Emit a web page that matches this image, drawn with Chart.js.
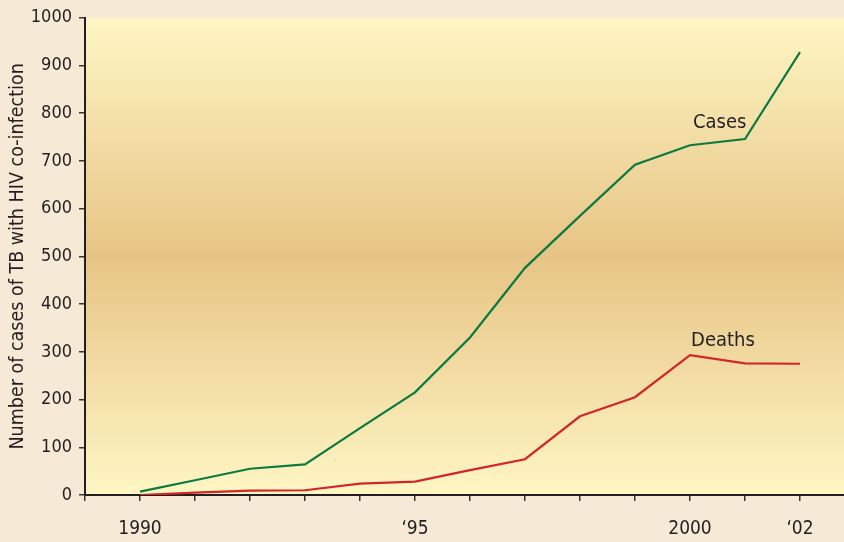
<!DOCTYPE html>
<html>
<head>
<meta charset="utf-8">
<script src="https://cdn.jsdelivr.net/npm/chart.js@4/dist/chart.umd.min.js"></script>
<style>
  html, body { margin: 0; padding: 0; background: #f6e9d6; }
  #wrap { width: 844px; height: 542px; }
</style>
</head>
<body>
<div id="wrap"><canvas id="c" width="844" height="542"></canvas></div>
<script>
// Annual TB cases with HIV co-infection, and deaths among them
const years  = [1990, 1991, 1992, 1993, 1994, 1995, 1996, 1997, 1998, 1999, 2000, 2001, 2002];
const cases  = [7, 31, 55, 64, 140, 215, 330, 476, 585, 692, 733, 746, 928];
const deaths = [0, 5, 9, 10, 24, 28, 52, 75, 165, 205, 293, 276, 275];

// Year tick marks and the few that carry a label
const tickYears = [1989, 1990, 1991, 1992, 1993, 1994, 1995, 1996, 1997, 1998, 1999, 2000, 2001, 2002];
const tickLabels = { 1990: '1990', 1995: '\u201895', 2000: '2000', 2002: '\u201802' };

// Series name labels, placed in data coordinates
const seriesLabels = [
  { text: 'Cases',  x: 2000.54, y: 781 },
  { text: 'Deaths', x: 2000.6,  y: 323 }
];

const FONT = "'DejaVu Sans Condensed', 'Liberation Sans Narrow', 'Arial Narrow', sans-serif";
const INK = '#231f20';

const toXY = (vals) => vals.map((v, i) => ({ x: years[i], y: v }));

// Page tone behind everything, and the banded gradient inside the plot
const backdrop = {
  id: 'backdrop',
  beforeDraw(chart) {
    const { ctx, chartArea: a } = chart;
    ctx.save();
    ctx.fillStyle = '#f6e9d6';
    ctx.fillRect(0, 0, chart.width, chart.height);
    const g = ctx.createLinearGradient(0, a.top, 0, a.bottom);
    g.addColorStop(0, '#fef6c4');
    g.addColorStop(0.5, '#e7c485');
    g.addColorStop(1, '#fef6c4');
    ctx.fillStyle = g;
    ctx.fillRect(a.left, a.top, a.right - a.left, a.bottom - a.top);
    ctx.restore();
  }
};

const nameTags = {
  id: 'nameTags',
  afterDatasetsDraw(chart) {
    const { ctx, scales: { x, y } } = chart;
    ctx.save();
    ctx.font = '20px ' + FONT;
    ctx.fillStyle = INK;
    ctx.textAlign = 'center';
    ctx.textBaseline = 'middle';
    seriesLabels.forEach(l => ctx.fillText(l.text, x.getPixelForValue(l.x), y.getPixelForValue(l.y)));
    ctx.restore();
  }
};

new Chart(document.getElementById('c'), {
  type: 'line',
  data: {
    datasets: [
      { label: 'Cases',  data: toXY(cases),  borderColor: '#0b7a40', borderWidth: 2.2, pointRadius: 0, tension: 0, fill: false },
      { label: 'Deaths', data: toXY(deaths), borderColor: '#d2262b', borderWidth: 2.2, pointRadius: 0, tension: 0, fill: false }
    ]
  },
  options: {
    responsive: false,
    animation: false,
    layout: { padding: { top: 15, right: 0, left: 0, bottom: 0 } },
    plugins: { legend: { display: false }, tooltip: { enabled: false } },
    scales: {
      x: {
        type: 'linear',
        min: 1989,
        max: 2002.8,
        offset: false,
        afterBuildTicks(scale) { scale.ticks = tickYears.map(v => ({ value: v })); },
        afterFit(scale) { scale.height = 47; },
        grid: { display: true, drawOnChartArea: false, drawTicks: true, tickLength: 6, color: '#3a3432', lineWidth: 1.5 },
        border: { display: true, color: INK, width: 2 },
        ticks: {
          autoSkip: false,
          maxRotation: 0,
          padding: 17,
          color: INK,
          font: { family: FONT, size: 19 },
          callback: (v) => tickLabels[v] || ''
        }
      },
      y: {
        min: 0,
        max: 1000,
        afterFit(scale) { scale.width = 85; },
        grid: { display: true, drawOnChartArea: false, drawTicks: true, tickLength: 6, color: '#3a3432', lineWidth: 1.5 },
        border: { display: true, color: INK, width: 2 },
        ticks: { stepSize: 100, padding: 7, color: INK, font: { family: FONT, size: 18 }, callback: (v) => String(v) },
        title: {
          display: true,
          text: 'Number of cases of TB with HIV co-infection',
          color: INK,
          font: { family: FONT, size: 19.5 },
          padding: { top: 6, bottom: 4 }
        }
      }
    }
  },
  plugins: [backdrop, nameTags]
});
</script>
</body>
</html>
